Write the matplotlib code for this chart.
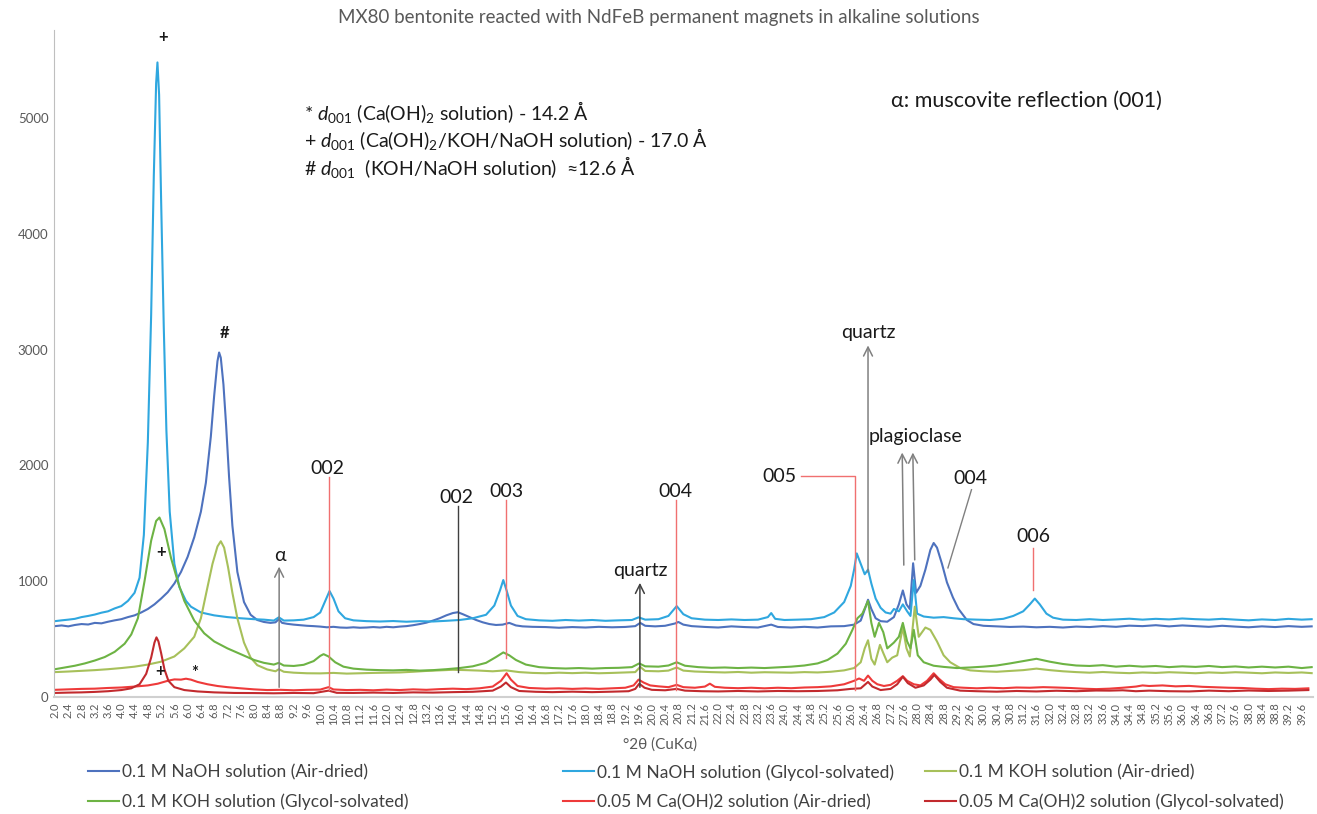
import matplotlib
matplotlib.use("Agg")
import matplotlib.pyplot as plt
import numpy as np

plt.rcParams['font.family'] = ['Lato', 'DejaVu Sans']
plt.rcParams['mathtext.fontset'] = 'custom'
plt.rcParams['mathtext.rm'] = 'Lato'
plt.rcParams['mathtext.it'] = 'Lato:italic'

# (2theta, counts)
naoh_air = [(2.0,612),(2.2,618),(2.4,610),(2.6,622),(2.8,630),(3.0,626),(3.2,640),(3.4,636),(3.6,650),(3.8,662),
            (4.0,672),(4.2,690),(4.4,705),(4.6,730),(4.8,760),(5.0,800),(5.2,850),(5.4,905),(5.6,980),(5.8,1080),
            (6.0,1210),(6.2,1380),(6.4,1600),(6.55,1850),(6.7,2250),(6.8,2600),(6.9,2900),(6.95,2975),(7.0,2930),
            (7.08,2700),(7.16,2350),(7.25,1900),(7.35,1480),(7.5,1080),(7.7,820),(7.9,710),(8.1,665),(8.3,648),
            (8.5,640),(8.65,645),(8.75,672),(8.85,640),(9.0,632),(9.2,625),(9.4,620),(9.6,615),(9.8,612),(10.0,608),
            (10.2,602),(10.4,606),(10.6,600),(10.8,598),(11.0,602),(11.2,598),(11.4,600),(11.6,604),(11.8,600),
            (12.0,606),(12.2,602),(12.4,608),(12.6,612),(12.8,620),(13.0,630),(13.2,642),(13.4,660),(13.6,680),
            (13.8,705),(14.0,725),(14.15,732),(14.3,715),(14.5,690),(14.7,665),(14.9,645),(15.1,630),(15.3,622),
            (15.5,625),(15.7,640),(15.9,618),(16.1,610),(16.4,606),(16.8,604),(17.2,598),(17.6,604),(18.0,600),
            (18.4,606),(18.8,602),(19.2,605),(19.5,612),(19.65,640),(19.8,615),(20.1,610),(20.4,615),(20.7,635),
            (20.8,648),(20.95,625),(21.2,612),(21.6,605),(22.0,600),(22.4,610),(22.8,604),(23.2,600),(23.6,625),
            (23.8,605),(24.2,600),(24.6,606),(25.0,600),(25.4,610),(25.8,612),(26.1,625),(26.3,660),(26.45,780),
            (26.52,840),(26.62,760),(26.75,680),(26.9,655),(27.1,650),(27.3,690),(27.45,800),(27.57,920),
            (27.68,800),(27.78,760),(27.88,1155),(27.97,900),(28.1,960),(28.25,1100),(28.4,1270),(28.5,1330),
            (28.6,1290),(28.75,1150),(28.9,990),(29.08,860),(29.25,760),(29.5,665),(29.7,630),(30.0,615),
            (30.4,610),(30.8,605),(31.2,608),(31.6,602),(32.0,606),(32.4,600),(32.8,608),(33.2,604),(33.6,612),
            (34.0,606),(34.4,616),(34.8,612),(35.2,620),(35.6,610),(36.0,618),(36.4,612),(36.8,606),(37.2,615),
            (37.6,608),(38.0,602),(38.4,610),(38.8,604),(39.2,612),(39.6,606),(39.9,610)]

naoh_gly = [(2.0,655),(2.2,662),(2.4,668),(2.6,675),(2.8,690),(3.0,700),(3.2,712),(3.4,728),(3.6,740),(3.8,765),
            (4.0,785),(4.2,830),(4.4,900),(4.55,1030),(4.68,1400),(4.8,2200),(4.9,3300),(4.98,4500),(5.05,5300),
            (5.09,5480),(5.14,5200),(5.2,4300),(5.28,3200),(5.36,2300),(5.46,1600),(5.6,1150),(5.75,950),
            (5.95,830),(6.1,780),(6.4,730),(6.8,705),(7.2,690),(7.6,680),(8.0,672),(8.3,668),(8.6,660),
            (8.75,688),(8.9,660),(9.2,662),(9.5,668),(9.8,690),(10.0,730),(10.15,830),(10.28,915),(10.4,850),
            (10.55,740),(10.75,680),(11.0,662),(11.4,655),(11.8,652),(12.2,656),(12.6,650),(13.0,655),(13.4,652),
            (13.8,658),(14.2,665),(14.6,680),(15.0,710),(15.25,790),(15.42,920),(15.52,1010),(15.62,920),
            (15.75,790),(15.95,700),(16.2,672),(16.6,662),(17.0,658),(17.4,665),(17.8,660),(18.2,665),(18.6,658),
            (19.0,662),(19.4,665),(19.6,688),(19.8,668),(20.2,672),(20.5,700),(20.75,785),(20.95,715),(21.2,680),
            (21.6,668),(22.0,665),(22.4,670),(22.8,665),(23.2,668),(23.5,690),(23.6,725),(23.72,675),(24.0,665),
            (24.4,668),(24.8,672),(25.2,690),(25.5,730),(25.8,820),(26.0,960),(26.1,1100),(26.18,1240),(26.3,1150),
            (26.42,1060),(26.52,1100),(26.62,980),(26.75,850),(26.9,770),(27.05,730),(27.2,720),(27.3,760),
            (27.45,740),(27.57,800),(27.7,740),(27.8,700),(27.9,1010),(28.0,720),(28.2,695),(28.5,685),(28.8,690),
            (29.1,680),(29.4,672),(29.8,668),(30.2,665),(30.6,675),(30.9,700),(31.2,740),(31.4,800),(31.55,850),
            (31.7,800),(31.9,720),(32.1,685),(32.4,668),(32.8,665),(33.2,672),(33.6,665),(34.0,670),(34.4,676),
            (34.8,668),(35.2,675),(35.6,670),(36.0,678),(36.4,672),(36.8,668),(37.2,675),(37.6,668),(38.0,662),
            (38.4,670),(38.8,665),(39.2,675),(39.6,668),(39.9,672)]

koh_air = [(2.0,215),(2.4,220),(2.8,226),(3.2,232),(3.6,240),(4.0,250),(4.4,262),(4.8,280),(5.2,305),(5.6,350),
           (5.9,420),(6.2,520),(6.4,680),(6.6,950),(6.75,1150),(6.9,1300),(7.0,1345),(7.1,1290),(7.22,1120),
           (7.35,900),(7.5,680),(7.7,470),(7.9,340),(8.1,275),(8.4,238),(8.65,222),(8.75,240),(8.9,218),(9.2,210),
           (9.6,205),(10.0,204),(10.4,208),(10.8,202),(11.2,205),(11.6,208),(12.0,210),(12.4,212),(12.8,218),
           (13.2,225),(13.6,230),(14.0,235),(14.4,232),(14.8,228),(15.2,222),(15.6,230),(16.0,215),(16.4,208),
           (16.8,205),(17.2,210),(17.6,206),(18.0,210),(18.4,205),(18.8,208),(19.2,212),(19.5,215),(19.65,260),
           (19.8,225),(20.2,222),(20.5,228),(20.75,255),(20.95,228),(21.3,220),(21.8,215),(22.2,212),(22.6,216),
           (23.0,210),(23.4,214),(23.8,212),(24.2,210),(24.6,215),(25.0,212),(25.4,218),(25.8,230),(26.1,250),
           (26.3,300),(26.42,420),(26.52,490),(26.62,330),(26.72,280),(26.88,450),(26.98,380),(27.1,300),
           (27.25,340),(27.4,360),(27.57,600),(27.68,420),(27.78,350),(27.93,780),(28.05,520),(28.15,560),
           (28.25,600),(28.4,580),(28.6,480),(28.8,360),(29.0,300),(29.3,250),(29.6,230),(30.0,222),(30.4,218),
           (30.8,225),(31.2,232),(31.6,245),(32.0,232),(32.4,222),(32.8,215),(33.2,210),(33.6,216),(34.0,210),
           (34.4,206),(34.8,212),(35.2,208),(35.6,214),(36.0,210),(36.4,205),(36.8,212),(37.2,208),(37.6,214),
           (38.0,210),(38.4,205),(38.8,212),(39.2,208),(39.6,212),(39.9,206)]

koh_gly = [(2.0,240),(2.3,255),(2.6,270),(2.9,290),(3.2,315),(3.5,345),(3.8,390),(4.1,460),(4.3,540),(4.5,680),
           (4.7,1000),(4.9,1350),(5.05,1520),(5.15,1550),(5.3,1450),(5.5,1200),(5.7,1000),(5.9,830),(6.2,660),
           (6.5,550),(6.8,480),(7.2,420),(7.6,370),(8.0,320),(8.3,295),(8.6,280),(8.75,295),
           (8.9,272),(9.2,268),(9.5,278),(9.8,310),(10.0,355),(10.1,370),(10.25,350),(10.45,300),(10.7,262),
           (11.0,245),(11.4,236),(11.8,232),(12.2,230),(12.6,234),(13.0,228),(13.4,232),(13.8,240),(14.2,250),
           (14.6,265),(15.0,295),(15.3,345),(15.52,385),(15.7,360),(15.9,320),(16.2,280),(16.6,258),(17.0,250),
           (17.4,246),(17.8,250),(18.2,245),(18.6,250),(19.0,252),(19.4,258),(19.62,290),(19.8,265),(20.2,262),
           (20.5,272),(20.75,300),(21.0,270),(21.4,258),(21.8,252),(22.2,255),(22.6,250),(23.0,254),(23.4,250),
           (23.8,256),(24.2,262),(24.6,272),(25.0,290),(25.3,320),(25.6,375),(25.85,460),(26.05,580),(26.2,680),
           (26.35,720),(26.52,830),(26.62,640),(26.72,520),(26.85,640),(26.98,560),(27.1,420),(27.3,470),
           (27.45,520),(27.57,640),(27.7,480),(27.8,420),(27.9,580),(28.02,360),(28.2,300),(28.5,270),(28.8,260),
           (29.2,250),(29.6,255),(30.0,262),(30.4,272),(30.8,290),(31.2,310),(31.6,330),(32.0,305),(32.4,285),
           (32.8,272),(33.2,268),(33.6,275),(34.0,262),(34.4,270),(34.8,262),(35.2,268),(35.6,258),(36.0,265),
           (36.4,260),(36.8,268),(37.2,258),(37.6,264),(38.0,255),(38.4,262),(38.8,255),(39.2,262),(39.6,250),
           (39.9,258)]

ca_air = [(2.0,62),(2.4,66),(2.8,70),(3.2,72),(3.6,78),(4.0,82),(4.4,90),(4.8,100),(5.1,115),(5.4,140),(5.6,152),
          (5.8,150),(5.95,158),(6.1,150),(6.3,130),(6.6,110),(6.9,95),(7.2,85),(7.6,75),(8.0,66),(8.4,60),(8.8,62),
          (9.2,58),(9.6,62),(10.0,64),(10.25,85),(10.4,65),(10.8,60),(11.2,62),(11.6,58),(12.0,64),(12.4,60),
          (12.8,66),(13.2,62),(13.6,68),(14.0,72),(14.4,68),(14.8,75),(15.2,90),(15.45,140),(15.62,205),
          (15.75,150),(15.95,95),(16.3,78),(16.8,72),(17.2,75),(17.6,70),(18.0,74),(18.4,70),(18.8,75),(19.2,80),
          (19.45,100),(19.6,150),(19.75,125),(19.95,100),(20.2,92),(20.5,85),(20.75,105),(20.95,85),(21.3,80),
          (21.6,90),(21.75,115),(21.9,88),(22.2,80),(22.6,76),(23.0,80),(23.4,75),(23.8,80),(24.2,76),(24.6,82),
          (25.0,85),(25.4,92),(25.8,110),(26.1,140),(26.25,160),(26.4,140),(26.52,185),(26.65,140),(26.8,110),
          (27.0,95),(27.2,105),(27.4,140),(27.57,180),(27.7,140),(27.9,110),(28.1,100),(28.3,140),(28.5,205),
          (28.65,160),(28.85,110),(29.1,85),(29.4,80),(29.8,75),(30.2,80),(30.6,76),(31.0,82),(31.4,80),(31.8,85),
          (32.2,82),(32.6,78),(33.0,72),(33.4,68),(33.8,72),(34.2,80),(34.6,90),(34.8,100),(35.0,95),(35.4,100),
          (35.8,92),(36.2,96),(36.6,88),(37.0,84),(37.4,80),(37.8,78),(38.2,72),(38.6,68),(39.0,72),(39.4,70),
          (39.8,75)]

ca_gly = [(2.0,35),(2.4,38),(2.8,40),(3.2,44),(3.6,50),(4.0,60),(4.3,75),(4.55,110),(4.75,200),(4.9,340),
          (5.0,470),(5.06,515),(5.12,480),(5.2,380),(5.3,240),(5.42,140),(5.6,85),(5.9,60),(6.3,48),(6.8,40),
          (7.4,35),(8.0,34),(8.6,32),(9.2,35),(9.8,33),(10.25,55),(10.5,36),(11.0,35),(11.6,38),(12.2,35),
          (12.8,40),(13.4,38),(14.0,42),(14.6,45),(15.2,55),(15.45,90),(15.6,125),(15.75,85),(16.0,52),(16.5,45),
          (17.0,42),(17.6,46),(18.2,42),(18.8,46),(19.3,50),(19.5,70),(19.62,115),(19.78,80),(20.0,62),(20.4,58),
          (20.75,70),(21.0,55),(21.5,50),(22.0,48),(22.6,52),(23.2,48),(23.8,52),(24.4,50),(25.0,52),(25.6,58),
          (26.0,70),(26.3,75),(26.52,130),(26.65,90),(26.9,60),(27.2,70),(27.4,110),(27.57,175),(27.72,120),
          (27.95,80),(28.2,100),(28.4,150),(28.52,190),(28.7,130),(28.9,80),(29.3,55),(29.8,50),(30.4,46),
          (31.0,52),(31.6,48),(32.2,54),(32.8,50),(33.4,56),(33.8,55),(34.2,58),(34.6,50),(35.0,55),(35.6,50),
          (36.2,48),(36.8,55),(37.4,50),(38.0,56),(38.6,52),(39.2,55),(39.8,60)]

labels = ["0.1 M NaOH solution (Air-dried)", "0.1 M NaOH solution (Glycol-solvated)",
          "0.1 M KOH solution (Air-dried)", "0.1 M KOH solution (Glycol-solvated)",
          "0.05 M Ca(OH)2 solution (Air-dried)", "0.05 M Ca(OH)2 solution (Glycol-solvated)"]
series = [naoh_air, naoh_gly, koh_air, koh_gly, ca_air, ca_gly]
colors = ["#4E72BE", "#2FA7DF", "#A7C05A", "#6DB344", "#EE3A3A", "#C22A2E"]

tick_pos = [round(2.0 + 0.4 * i, 1) for i in range(95)]
tick_labels = ["%.1f" % t for t in tick_pos]

fig = plt.figure(figsize=(13.17, 8.14), dpi=100)
ax = fig.add_axes([54 / 1317, 1 - 697 / 814, (1313 - 54) / 1317, (697 - 30) / 814])

handles = []
for s, c, lab in zip(series, colors, labels):
    x, y = zip(*s)
    h, = ax.plot(x, y, color=c, lw=1.5, label=lab)
    handles.append(h)

ax.set_xlim(1.97, 39.94)
ax.set_ylim(0, 5760)
ax.set_xticks(tick_pos)
ax.set_xticklabels(tick_labels, rotation=90, fontsize=8, color="#595959")
ax.set_yticks([0, 1000, 2000, 3000, 4000, 5000])
ax.set_yticklabels(["0", "1000", "2000", "3000", "4000", "5000"], fontsize=9.5, color="#595959")
ax.tick_params(axis="both", length=0, pad=4)
for sp in ["top", "right"]:
    ax.spines[sp].set_visible(False)
ax.spines["left"].set_color("#BFBFBF")
ax.spines["bottom"].set_color("#D0D0D0")
ax.spines["bottom"].set_linewidth(1.5)

fig.text(0.5, 1 - 18 / 814, "MX80 bentonite reacted with NdFeB permanent magnets in alkaline solutions",
         ha="center", va="center", fontsize=13.5, color="#595959")
fig.text(660 / 1317, 1 - 745 / 814, "°2θ (CuKα)", ha="center", va="center", fontsize=11, color="#595959")

# text notes
tk = dict(fontsize=14, color="#1a1a1a", ha="left", va="center")
ax.text(9.5, 5050, r"* $\mathit{d}_{001}$ (Ca(OH)$_2$ solution) - 14.2 Å", **tk)
ax.text(9.5, 4815, r"+ $\mathit{d}_{001}$ (Ca(OH)$_2$/KOH/NaOH solution) - 17.0 Å", **tk)
ax.text(9.5, 4580, r"# $\mathit{d}_{001}$  (KOH/NaOH solution)  ≈12.6 Å", **tk)
ax.text(27.2, 5150, "α: muscovite reflection (001)", fontsize=15.5, color="#1a1a1a", ha="left", va="center")

sym = dict(fontsize=12, color="#1a1a1a", ha="center", va="center", fontweight="bold")
ax.text(5.25, 5700, "+", **sym)
ax.text(7.1, 3140, "#", **sym)
ax.text(5.2, 1250, "+", **sym)
ax.text(5.18, 225, "+", **sym)
ax.text(6.2, 210, "*", **sym)

lab = dict(fontsize=14, color="#1a1a1a", ha="center", va="bottom")
grey = "#808080"
red = "#F07070"

def arrow(x, y0, y1, x1=None, color=grey):
    ax.annotate("", xy=(x if x1 is None else x1, y1), xytext=(x, y0),
                arrowprops=dict(arrowstyle="->", color=color, lw=1.1, mutation_scale=16))

# alpha
arrow(8.76, 60, 1150)
ax.text(8.78, 1150, "α", **lab)
# 002 (glycol)
ax.plot([10.25, 10.25], [60, 1900], color=red, lw=1)
ax.text(10.2, 1900, "002", **lab)
# 002 (air-dried)
ax.plot([14.15, 14.15], [215, 1650], color="#404040", lw=1)
ax.text(14.1, 1650, "002", **lab)
# 003
ax.plot([15.6, 15.6], [340, 1700], color=red, lw=1)
ax.text(15.6, 1700, "003", **lab)
# quartz
arrow(19.64, 60, 1010, color="#404040")
ax.text(19.64, 1020, "quartz", **lab)
# 004
ax.plot([20.72, 20.72], [60, 1700], color=red, lw=1)
ax.text(20.72, 1700, "004", **lab)
# 005
ax.plot([24.5, 26.14, 26.14], [1905, 1905, 60], color=red, lw=1)
ax.text(23.85, 1905, "005", fontsize=14, color="#1a1a1a", ha="center", va="center")
# quartz top
arrow(26.52, 1055, 3060)
ax.text(26.52, 3070, "quartz", **lab)
# plagioclase
arrow(27.6, 1115, 2135, x1=27.55)
arrow(27.93, 1160, 2135, x1=27.87)
ax.text(27.95, 2180, "plagioclase", **lab)
# 004 right
ax.plot([28.93, 29.64], [1115, 1790], color=grey, lw=1)
ax.text(29.6, 1810, "004", **lab)
# 006
ax.plot([31.5, 31.5], [925, 1290], color=red, lw=1)
ax.text(31.5, 1310, "006", **lab)

# legend, three columns placed like the reference
order = [[0, 3], [1, 4], [2, 5]]
xs = [88, 563, 925]
for cols, xp in zip(order, xs):
    leg = fig.legend([handles[i] for i in cols], [labels[i] for i in cols],
                     loc="upper left", bbox_to_anchor=(xp / 1317, 1 - 764 / 814),
                     frameon=False, fontsize=12.5, handlelength=1.8, handletextpad=0.15,
                     borderpad=0, borderaxespad=0, labelspacing=0.78)
    for t in leg.get_texts():
        t.set_color("#404040")

fig.savefig("out.png", dpi=100)
